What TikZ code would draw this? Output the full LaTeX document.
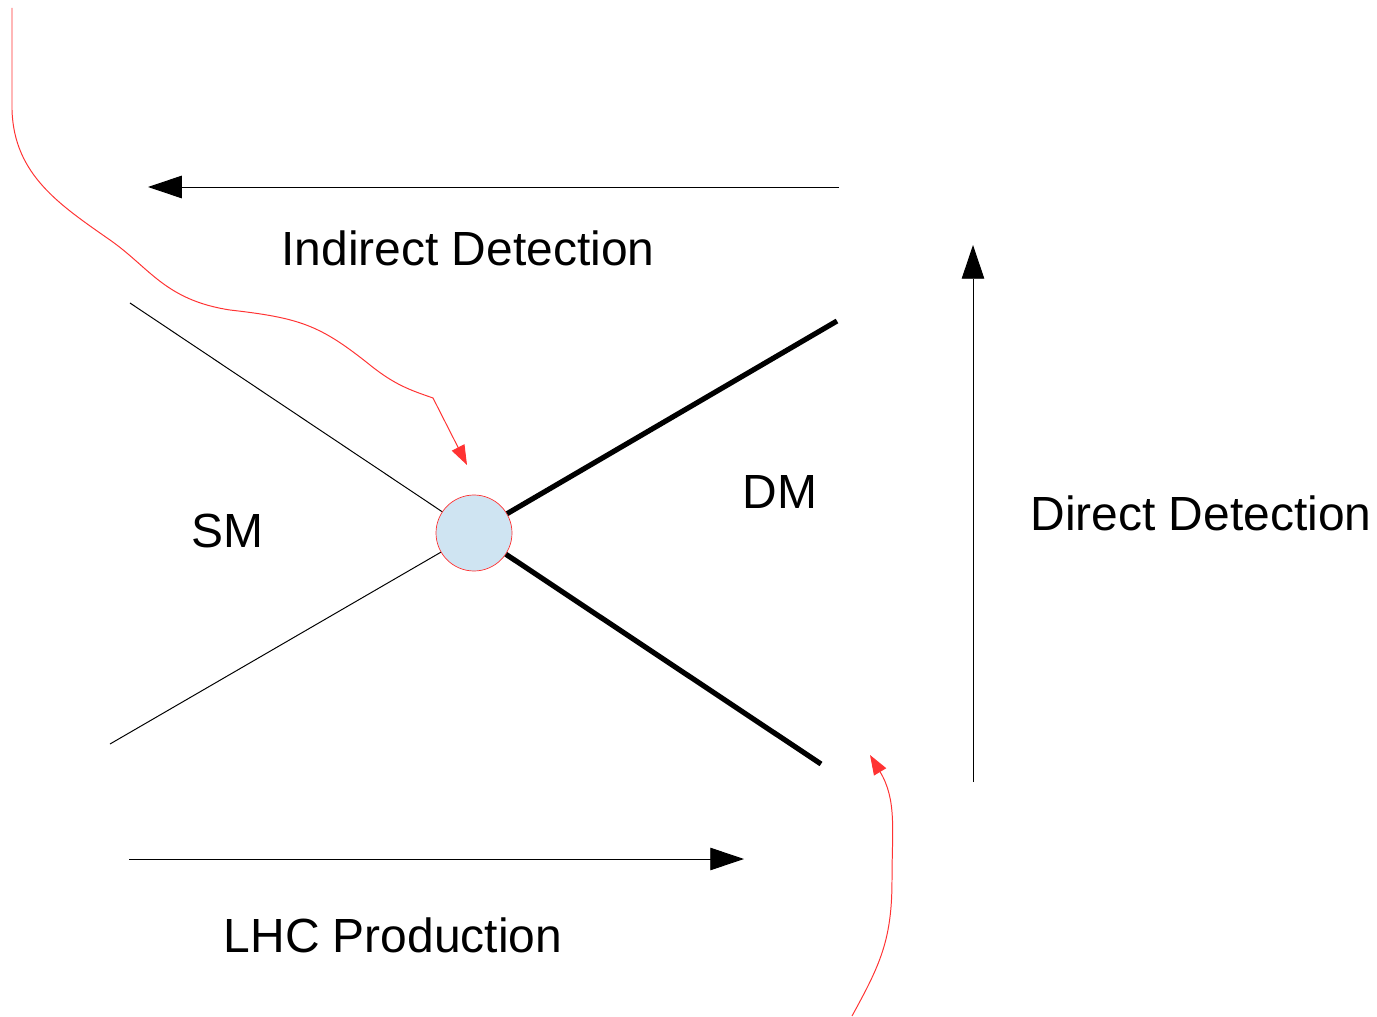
\documentclass[tikz,border=0pt]{standalone}
\usepackage{fontspec}
\setmainfont{Liberation Sans}
\usetikzlibrary{arrows.meta}
\definecolor{vertexblue}{RGB}{207,228,242}
\definecolor{probered}{RGB}{255,51,51}

\begin{document}
\begin{tikzpicture}[x=0.025cm, y=-0.025cm,
        label/.style={font=\fontsize{34.1}{40}\selectfont, inner sep=0},
        bigarrow/.style={line width=0.7pt, -{Triangle[length=24pt,width=16pt]}},
        probe/.style={probered, line width=0.7pt, -{Triangle[length=14pt,width=10pt]}}]
                \useasboundingbox (0,0) rectangle (1377,1017);
                \node[circle, draw=probered, fill=vertexblue, line width=0.5pt, minimum size=76*0.025cm, inner sep=0] (V) at (474,533) {};
                \coordinate (SMa) at (130,303);
                \coordinate (SMb) at (110,744);
                \coordinate (DMa) at (837,321);
                \coordinate (DMb) at (821,764);
                \begin{scope}[every path/.style={black}]
                        \draw[line width=0.7pt] (SMa) -- (V);
                        \draw[line width=0.7pt] (SMb) -- (V);
                        \draw[line width=3.7pt] (V) -- (DMa);
                        \draw[line width=3.7pt] (V) -- (DMb);
                \end{scope}
                \node[label] (SM) at (227,531) {SM};
                \node[label] (DM) at (780,492) {DM};
                \coordinate (IDs) at (839,187);
                \coordinate (IDe) at (148,187);
                \coordinate (DDs) at (973,782);
                \coordinate (DDe) at (973,245);
                \coordinate (LHs) at (129,859);
                \coordinate (LHe) at (744,859);
                \draw[bigarrow] (IDs) -- (IDe);
                \draw[bigarrow] (DDs) -- (DDe);
                \draw[bigarrow] (LHs) -- (LHe);
                \node[label] (ID) at (468,248) {Indirect Detection};
                \node[label] (DD) at (1201,513) {Direct Detection};
                \node[label] (LHC) at (393,935) {LHC Production};
                \coordinate (Pa) at (12,8);
                \coordinate (Pb) at (852,1016);
                \coordinate (Ta) at (467,465);
                \coordinate (Tb) at (870,755);
                \draw[probe] (Pa) -- (12,110) .. controls (14,175) and (60,205) .. (110,240)
                        .. controls (150,268) and (165,300) .. (230,310)
                        .. controls (300,318) and (320,325) .. (370,365)
                        .. controls (395,385) and (410,390) .. (433,398) -- (Ta);
                \draw[probe] (Pb) .. controls (880,965) and (892,940) .. (892,880)
                        .. controls (892,830) and (897,800) .. (Tb);
        \end{tikzpicture}
\end{document}
